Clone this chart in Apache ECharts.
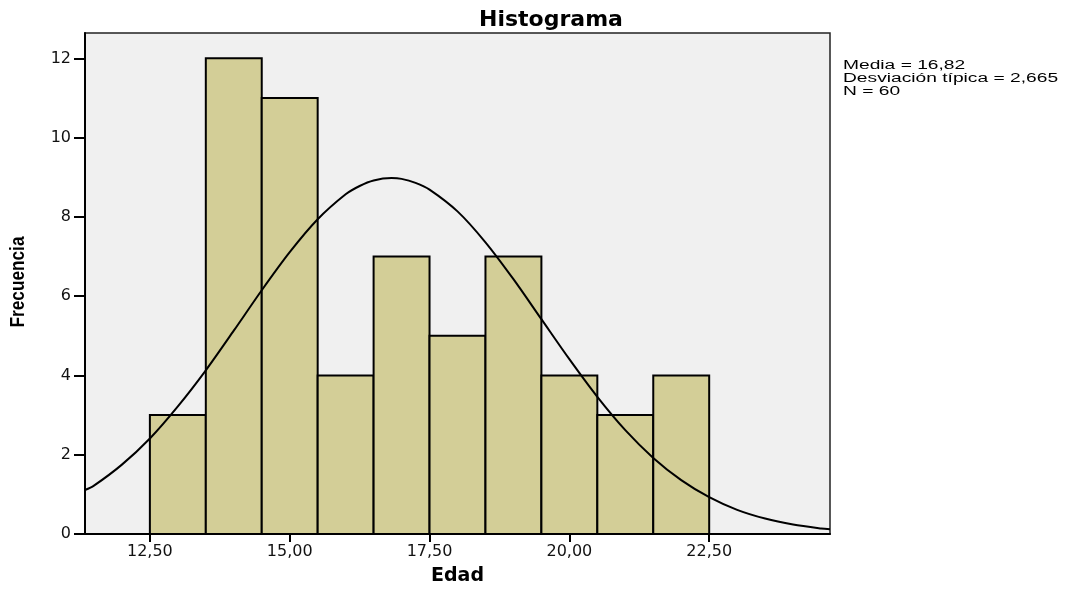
<!DOCTYPE html>
<html>
<head>
<meta charset="utf-8">
<script src="https://cdn.jsdelivr.net/npm/echarts@6/dist/echarts.min.js"></script>
<style>
html,body{margin:0;padding:0;background:#fff;}
#chart{width:1066px;height:594px;}
</style>
</head>
<body>
<div id="chart"></div>
<script>
// Histogram bins (Edad) and frequencies
var binStarts = [12.5, 13.5, 14.5, 15.5, 16.5, 17.5, 18.5, 19.5, 20.5, 21.5];
var binEnds   = [13.5, 14.5, 15.5, 16.5, 17.5, 18.5, 19.5, 20.5, 21.5, 22.5];
var counts    = [3, 12, 11, 4, 7, 5, 7, 4, 3, 4];

// Normal curve
var curveX = [11.34, 11.5, 12, 12.5, 13, 13.5, 14, 14.5, 15, 15.5, 16, 16.25, 16.5, 16.82, 17, 17.25, 17.5, 18, 18.5, 19, 19.5, 20, 20.5, 21, 21.5, 22, 22.5, 23, 23.5, 24, 24.5, 24.66];
var curveY = [1.11, 1.22, 1.75, 2.41, 3.22, 4.13, 5.13, 6.15, 7.11, 7.94, 8.57, 8.78, 8.92, 8.98, 8.96, 8.86, 8.69, 8.14, 7.36, 6.43, 5.42, 4.41, 3.46, 2.62, 1.92, 1.36, 0.93, 0.61, 0.39, 0.24, 0.14, 0.12];

// Tick labels
var xTicks = [12.5, 15, 17.5, 20, 22.5];
var yTicks = [0, 2, 4, 6, 8, 10, 12];

var statLines = ['Media = 16,82', 'Desviación típica = 2,665', 'N = 60'];

var barData = binStarts.map(function (s, i) { return [s, binEnds[i], counts[i]]; });
var curveData = curveX.map(function (x, i) { return [x, curveY[i]]; });

var chart = echarts.init(document.getElementById('chart'), null, {renderer: 'canvas'});
var option = {
  animation: false,
  backgroundColor: '#ffffff',
  title: {
    text: 'Histograma',
    left: 546,
    top: 4,
    textAlign: 'center',
    textStyle: {fontFamily: 'DejaVu Sans', fontWeight: 'bold', fontSize: 22, color: '#000'}
  },
  grid: {
    left: 85, top: 33, right: 236, bottom: 60,
    show: true, backgroundColor: '#f0f0f0', borderColor: '#222', borderWidth: 1.5
  },
  xAxis: {
    type: 'value',
    min: 11.34, max: 24.66,
    name: 'Edad',
    nameLocation: 'middle',
    nameGap: 33,
    nameTextStyle: {fontFamily: 'DejaVu Sans', fontWeight: 'bold', fontSize: 19, color: '#000'},
    axisLine: {show: true, onZero: false, lineStyle: {color: '#000', width: 2}},
    axisTick: {show: true, length: 8, inside: false, customValues: xTicks, lineStyle: {color: '#000', width: 2}},
    axisLabel: {
      customValues: xTicks, margin: 10,
      fontFamily: 'DejaVu Sans', fontSize: 16, color: '#111',
      formatter: function (v) { return v.toFixed(2).replace('.', ','); }
    },
    splitLine: {show: false}
  },
  yAxis: {
    type: 'value',
    min: 0, max: 12.64,
    axisLine: {show: true, lineStyle: {color: '#000', width: 2}},
    axisTick: {show: true, length: 11, inside: false, customValues: yTicks, lineStyle: {color: '#000', width: 2}},
    axisLabel: {
      customValues: yTicks, margin: 14,
      fontFamily: 'DejaVu Sans', fontSize: 16, color: '#111'
    },
    splitLine: {show: false}
  },
  series: [
    {
      type: 'custom',
      data: barData,
      encode: {x: [0, 1], y: 2},
      renderItem: function (params, api) {
        var p0 = api.coord([api.value(0), api.value(2)]);
        var p1 = api.coord([api.value(1), 0]);
        return {
          type: 'rect',
          shape: {x: p0[0], y: p0[1], width: p1[0] - p0[0], height: p1[1] - p0[1]},
          style: {fill: '#d3ce97', stroke: '#000', lineWidth: 2}
        };
      },
      z: 2
    },
    {
      type: 'line',
      data: curveData,
      smooth: 0.3,
      showSymbol: false,
      symbol: 'none',
      lineStyle: {color: '#000', width: 2},
      z: 3
    }
  ],
  graphic: [
    {
      type: 'text',
      left: 843,
      top: 59,
      scaleX: 1.6,
      style: {
        text: statLines.join('\n'),
        fontFamily: 'Liberation Sans',
        fontSize: 12,
        lineHeight: 13,
        fill: '#000'
      }
    },
    {
      type: 'text',
      x: 18,
      y: 282,
      rotation: Math.PI / 2,
      scaleX: 0.82,
      style: {
        text: 'Frecuencia',
        fontFamily: 'Liberation Sans',
        fontWeight: 'bold',
        fontSize: 21,
        fill: '#000',
        align: 'center',
        verticalAlign: 'middle'
      }
    }
  ]
};
chart.setOption(option);
</script>
</body>
</html>
